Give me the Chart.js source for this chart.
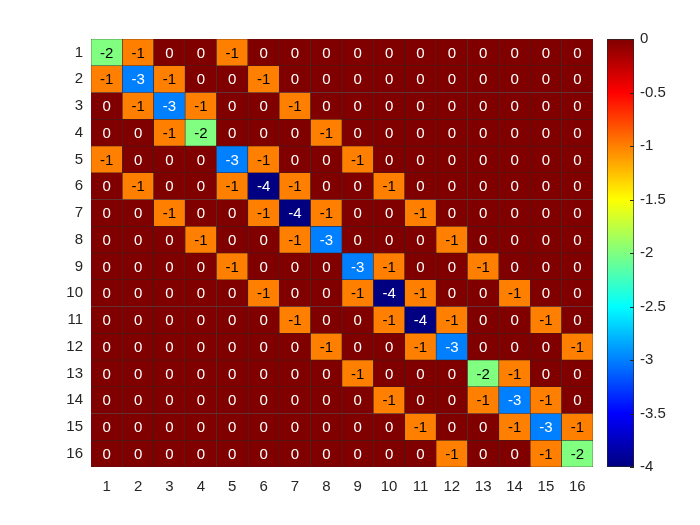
<!DOCTYPE html>
<html>
<head>
<meta charset="utf-8">
<script src="https://cdn.jsdelivr.net/npm/chart.js@4/dist/chart.umd.min.js"></script>
<style>
  html, body { margin: 0; padding: 0; background: #fff; }
  #wrap { position: relative; width: 700px; height: 525px; }
  canvas { position: absolute; left: 0; top: 0; }
</style>
</head>
<body>
<div id="wrap">
  <canvas id="main" width="700" height="525"></canvas>
  <canvas id="cbar" width="700" height="525"></canvas>
</div>
<script>
// ---- data ----
const colLabels = ['1','2','3','4','5','6','7','8','9','10','11','12','13','14','15','16'];
const rowLabels = ['1','2','3','4','5','6','7','8','9','10','11','12','13','14','15','16'];
const values = [
  [-2,-1, 0, 0,-1, 0, 0, 0, 0, 0, 0, 0, 0, 0, 0, 0],
  [-1,-3,-1, 0, 0,-1, 0, 0, 0, 0, 0, 0, 0, 0, 0, 0],
  [ 0,-1,-3,-1, 0, 0,-1, 0, 0, 0, 0, 0, 0, 0, 0, 0],
  [ 0, 0,-1,-2, 0, 0, 0,-1, 0, 0, 0, 0, 0, 0, 0, 0],
  [-1, 0, 0, 0,-3,-1, 0, 0,-1, 0, 0, 0, 0, 0, 0, 0],
  [ 0,-1, 0, 0,-1,-4,-1, 0, 0,-1, 0, 0, 0, 0, 0, 0],
  [ 0, 0,-1, 0, 0,-1,-4,-1, 0, 0,-1, 0, 0, 0, 0, 0],
  [ 0, 0, 0,-1, 0, 0,-1,-3, 0, 0, 0,-1, 0, 0, 0, 0],
  [ 0, 0, 0, 0,-1, 0, 0, 0,-3,-1, 0, 0,-1, 0, 0, 0],
  [ 0, 0, 0, 0, 0,-1, 0, 0,-1,-4,-1, 0, 0,-1, 0, 0],
  [ 0, 0, 0, 0, 0, 0,-1, 0, 0,-1,-4,-1, 0, 0,-1, 0],
  [ 0, 0, 0, 0, 0, 0, 0,-1, 0, 0,-1,-3, 0, 0, 0,-1],
  [ 0, 0, 0, 0, 0, 0, 0, 0,-1, 0, 0, 0,-2,-1, 0, 0],
  [ 0, 0, 0, 0, 0, 0, 0, 0, 0,-1, 0, 0,-1,-3,-1, 0],
  [ 0, 0, 0, 0, 0, 0, 0, 0, 0, 0,-1, 0, 0,-1,-3,-1],
  [ 0, 0, 0, 0, 0, 0, 0, 0, 0, 0, 0,-1, 0, 0,-1,-2]
];
const colorMin = -4;
const colorMax = 0;
const colorbarTicks = [0, -0.5, -1, -1.5, -2, -2.5, -3, -3.5, -4];

// ---- styling helpers ----
const FONT = "'Liberation Sans', Arial, Helvetica, sans-serif";
const TEXT = '#262626';
const jetStops = [
  [0.0,   [0, 0, 0.5]],
  [0.125, [0, 0, 1]],
  [0.375, [0, 1, 1]],
  [0.625, [1, 1, 0]],
  [0.875, [1, 0, 0]],
  [1.0,   [0.5, 0, 0]]
];
function jetRGB(t) {
  t = Math.max(0, Math.min(1, t));
  for (let i = 1; i < jetStops.length; i++) {
    const [t1, c1] = jetStops[i];
    const [t0, c0] = jetStops[i - 1];
    if (t <= t1) {
      const f = (t - t0) / (t1 - t0);
      return c0.map((c, k) => Math.round(255 * (c + (c1[k] - c) * f)));
    }
  }
  return [128, 0, 0];
}
function norm(v) { return (v - colorMin) / (colorMax - colorMin); }
function jetCss(t) { const c = jetRGB(t); return `rgb(${c[0]},${c[1]},${c[2]})`; }
function textColorFor(v) {
  const c = jetRGB(norm(v));
  const lum = 0.299 * c[0] + 0.587 * c[1] + 0.114 * c[2];
  return lum > 140 ? '#000000' : '#ffffff';
}

// ---- main heatmap ----
const datasets = values.map((row, r) => ({
  label: rowLabels[r],
  data: row.map(() => [r + 0.5, r + 1.5]),
  cellValues: row,
  backgroundColor: row.map(v => jetCss(norm(v))),
  borderColor: '#3a2020',
  borderWidth: 0.6,
  borderSkipped: false,
  grouped: false,
  barPercentage: 1,
  categoryPercentage: 1
}));

const cellText = {
  id: 'cellText',
  afterDatasetsDraw(chart) {
    const ctx = chart.ctx;
    ctx.save();
    ctx.font = `15px ${FONT}`;
    ctx.textAlign = 'center';
    ctx.textBaseline = 'middle';
    chart.data.datasets.forEach((ds, di) => {
      const meta = chart.getDatasetMeta(di);
      meta.data.forEach((el, i) => {
        const v = ds.cellValues[i];
        ctx.fillStyle = textColorFor(v);
        ctx.fillText(String(v), el.x, (el.y + el.base) / 2 + 1);
      });
    });
    ctx.restore();
  }
};

new Chart(document.getElementById('main'), {
  type: 'bar',
  data: { labels: colLabels, datasets },
  options: {
    responsive: false,
    animation: false,
    devicePixelRatio: 1,
    layout: { padding: { left: 0, right: 107, top: 39, bottom: 0 } },
    plugins: { legend: { display: false }, tooltip: { enabled: false } },
    scales: {
      x: {
        type: 'category',
        grid: { display: false, drawTicks: false },
        border: { display: false },
        ticks: { font: { family: FONT, size: 15 }, color: TEXT, padding: 11, maxRotation: 0 },
        afterFit: s => { s.height = 58; }
      },
      y: {
        type: 'linear',
        min: 0.5,
        max: 16.5,
        reverse: true,
        grid: { display: false, drawTicks: false },
        border: { display: false },
        afterBuildTicks: s => { s.ticks = rowLabels.map((l, i) => ({ value: i + 1 })); },
        ticks: {
          font: { family: FONT, size: 15 },
          color: TEXT,
          padding: 8,
          callback: (v, i) => rowLabels[i]
        },
        afterFit: s => { s.width = 91; }
      }
    }
  },
  plugins: [cellText]
});

// ---- colorbar ----
function gradientFill(context) {
  const chart = context.chart;
  const area = chart.chartArea;
  if (!area) return jetCss(1);
  const ys = chart.scales.y;
  const yTop = ys.getPixelForValue(colorMax);
  const yBot = ys.getPixelForValue(colorMin);
  const g = chart.ctx.createLinearGradient(0, yBot, 0, yTop);
  for (let i = 0; i <= 32; i++) {
    const t = i / 32;
    g.addColorStop(t, jetCss(t));
  }
  return g;
}

const innerTicks = {
  id: 'innerTicks',
  afterDatasetsDraw(chart) {
    const ctx = chart.ctx;
    const ys = chart.scales.y;
    const right = chart.chartArea.right;
    ctx.save();
    ctx.strokeStyle = '#262626';
    ctx.lineWidth = 1;
    ys.ticks.forEach(t => {
      const y = Math.round(ys.getPixelForValue(t.value)) + 0.5;
      ctx.beginPath();
      ctx.moveTo(right - 4, y);
      ctx.lineTo(right, y);
      ctx.stroke();
    });
    ctx.restore();
  }
};

new Chart(document.getElementById('cbar'), {
  type: 'bar',
  data: {
    labels: ['c'],
    datasets: [{
      data: [[colorMin, colorMax]],
      backgroundColor: gradientFill,
      borderColor: '#262626',
      borderWidth: 1,
      borderSkipped: false,
      barPercentage: 1,
      categoryPercentage: 1
    }]
  },
  options: {
    responsive: false,
    animation: false,
    devicePixelRatio: 1,
    layout: { padding: { left: 607, right: 0, top: 39, bottom: 58 } },
    plugins: { legend: { display: false }, tooltip: { enabled: false } },
    scales: {
      x: { display: false },
      y: {
        position: 'right',
        min: colorMin,
        max: colorMax,
        grid: { display: false, drawTicks: false },
        border: { display: false },
        afterBuildTicks: s => { s.ticks = colorbarTicks.map(v => ({ value: v })); },
        ticks: {
          font: { family: FONT, size: 15 },
          color: TEXT,
          padding: 6,
          callback: v => String(v)
        },
        afterFit: s => { s.width = 66; }
      }
    }
  },
  plugins: [innerTicks]
});
</script>
</body>
</html>
